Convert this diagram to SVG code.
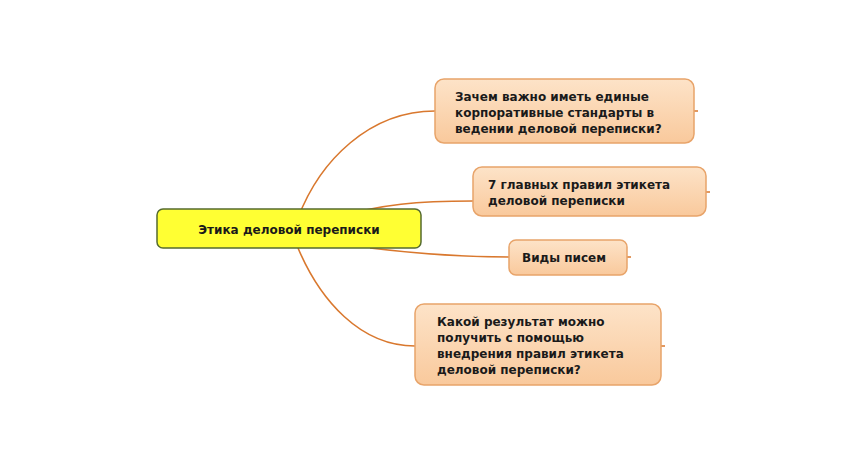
<svg xmlns="http://www.w3.org/2000/svg" width="850" height="450" viewBox="0 0 850 450">
<defs>
<linearGradient id="og" x1="0" y1="0" x2="0" y2="1"><stop offset="0" stop-color="#fde3c8"/><stop offset="1" stop-color="#f9c99c"/></linearGradient>
<style>
.n{fill:url(#og);stroke:#e8a46a;stroke-width:1.5}
.t{font-family:"DejaVu Sans",Verdana,sans-serif;font-weight:bold;font-size:12px;fill:#1a1a1a}
.c{fill:none;stroke:#d9782e;stroke-width:1.6}
</style>
</defs>
<rect width="850" height="450" fill="#fff"/>
<g id="connectors">
<path class="c" d="M298,218 C320,160 370,111 435,111"/>
<path class="c" d="M335,218 C380,204 420,201 473,201"/>
<path class="c" d="M370,248 C420,254 460,257 509,257"/>
<path class="c" d="M298,248 C320,300 360,346 415,346"/>
<path class="c" d="M694,111 h4 M706,192 h4 M627,257 h4 M661,346 h4"/>
</g>
<g id="center">
<rect x="157" y="209" width="264" height="39" rx="6" fill="#ffff33" stroke="#556b2f" stroke-width="1.5"/>
<text class="t" x="289" y="234" text-anchor="middle" font-size="15">Этика деловой переписки</text>
</g>
<g id="n1">
<rect class="n" x="435" y="79" width="259" height="64" rx="9"/>
<text class="t"><tspan x="455" y="101">Зачем важно иметь единые</tspan><tspan x="455" y="117">корпоративные стандарты в</tspan><tspan x="455" y="133">ведении деловой переписки?</tspan></text>
</g>
<g id="n2">
<rect class="n" x="473" y="167" width="233" height="49" rx="9"/>
<text class="t"><tspan x="488" y="189">7 главных правил этикета</tspan><tspan x="488" y="205">деловой переписки</tspan></text>
</g>
<g id="n3">
<rect class="n" x="509" y="240" width="118" height="35" rx="7"/>
<text class="t" x="522" y="262">Виды писем</text>
</g>
<g id="n4">
<rect class="n" x="415" y="304" width="246" height="81" rx="9"/>
<text class="t"><tspan x="437" y="326">Какой результат можно</tspan><tspan x="437" y="342">получить с помощью</tspan><tspan x="437" y="358">внедрения правил этикета</tspan><tspan x="437" y="374">деловой переписки?</tspan></text>
</g>
</svg>
